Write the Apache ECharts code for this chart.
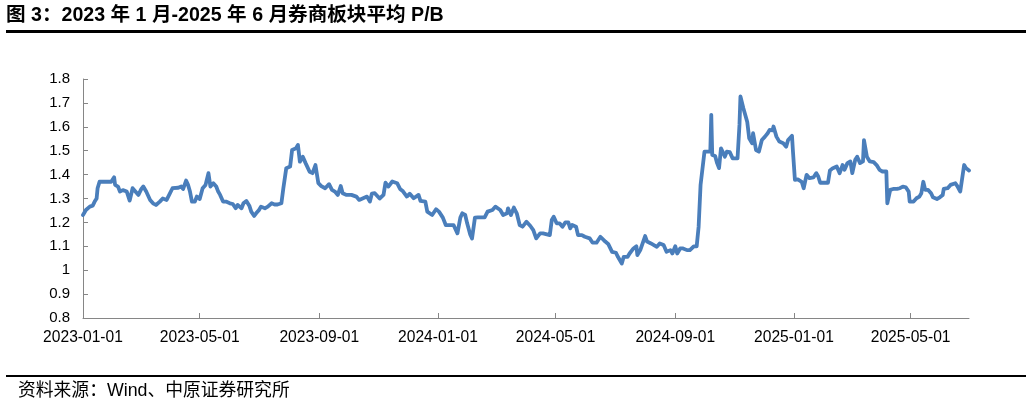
<!DOCTYPE html>
<html>
<head>
<meta charset="utf-8">
<script src="https://cdn.jsdelivr.net/npm/echarts@6/dist/echarts.min.js"></script>
<style>html,body{margin:0;padding:0;background:#fff;}#c{width:1032px;height:409px;}</style>
</head>
<body>
<div id="c"></div>
<script>
// Day offsets from 2023-01-01 (x category) and average P/B of the brokerage sector
const startDate = '2023-01-01';
const dayOffsets = [0,3,7,10,12,14,15,17,19,22,29,32,33,36,38,41,45,48,51,53,57,60,62,65,69,72,75,79,82,86,88,92,94,98,101,103,106,108,110,112,115,117,120,123,126,129,131,134,137,139,141,144,147,151,154,157,159,163,165,168,171,173,176,178,181,183,187,190,194,197,200,204,206,207,209,213,215,219,221,223,226,229,231,233,236,239,242,245,249,253,256,259,262,265,267,271,276,281,284,288,292,295,297,300,305,309,311,314,318,323,326,329,333,336,340,342,345,347,352,354,359,360,363,366,370,373,377,379,381,385,388,390,393,395,398,400,403,406,413,416,418,421,424,426,429,432,436,437,440,443,446,449,452,456,460,463,466,470,473,480,482,484,487,490,493,496,499,501,503,507,509,513,516,521,524,528,532,534,537,540,544,548,550,554,556,560,562,566,569,570,573,575,578,580,584,587,590,593,597,600,604,606,609,611,614,617,621,624,628,631,633,635,637,639,641,645,646,647,650,652,654,656,658,660,662,665,668,670,673,675,676,679,681,683,685,688,689,692,695,698,701,704,706,709,710,713,716,720,723,725,729,730,732,735,739,741,744,747,751,754,756,758,766,768,771,775,778,781,783,786,789,791,794,796,799,802,803,805,806,809,813,816,819,822,826,827,830,833,837,840,843,846,849,850,854,857,860,862,864,866,869,872,874,878,881,884,885,889,892,894,897,899,902,903,906,908,911];
const pbValues = [1.231,1.252,1.266,1.27,1.287,1.30,1.343,1.37,1.378,1.37,1.37,1.389,1.357,1.35,1.329,1.335,1.329,1.291,1.343,1.35,1.315,1.34,1.35,1.329,1.294,1.28,1.273,1.287,1.30,1.294,1.287,1.343,1.35,1.345,1.35,1.34,1.375,1.357,1.329,1.287,1.287,1.308,1.298,1.343,1.357,1.406,1.35,1.364,1.35,1.329,1.315,1.287,1.287,1.28,1.277,1.259,1.273,1.259,1.28,1.29,1.27,1.245,1.227,1.238,1.252,1.266,1.259,1.266,1.28,1.275,1.275,1.28,1.343,1.35,1.427,1.434,1.503,1.51,1.524,1.454,1.475,1.447,1.454,1.412,1.406,1.44,1.364,1.352,1.343,1.36,1.336,1.329,1.315,1.352,1.322,1.315,1.315,1.308,1.294,1.301,1.308,1.287,1.32,1.322,1.30,1.315,1.366,1.35,1.371,1.364,1.34,1.33,1.308,1.32,1.301,1.294,1.315,1.29,1.287,1.245,1.231,1.224,1.255,1.245,1.22,1.189,1.189,1.182,1.189,1.154,1.22,1.238,1.231,1.196,1.151,1.133,1.22,1.221,1.221,1.245,1.245,1.252,1.266,1.273,1.252,1.231,1.238,1.259,1.231,1.262,1.238,1.189,1.182,1.203,1.185,1.168,1.133,1.154,1.154,1.147,1.21,1.224,1.196,1.196,1.182,1.2,1.2,1.175,1.189,1.182,1.147,1.147,1.14,1.133,1.115,1.115,1.14,1.147,1.12,1.11,1.077,1.073,1.056,1.028,1.056,1.056,1.07,1.091,1.1,1.063,1.084,1.084,1.143,1.12,1.112,1.105,1.098,1.112,1.105,1.077,1.084,1.07,1.1,1.07,1.091,1.091,1.084,1.084,1.1,1.1,1.182,1.357,1.36,1.496,1.496,1.496,1.65,1.482,1.478,1.448,1.427,1.51,1.503,1.475,1.496,1.494,1.468,1.475,1.468,1.608,1.727,1.678,1.675,1.62,1.552,1.531,1.573,1.503,1.496,1.545,1.558,1.573,1.587,1.585,1.601,1.559,1.538,1.531,1.517,1.545,1.562,1.496,1.378,1.38,1.37,1.343,1.399,1.385,1.388,1.406,1.392,1.366,1.366,1.417,1.427,1.434,1.406,1.44,1.42,1.448,1.455,1.406,1.462,1.475,1.448,1.455,1.544,1.538,1.475,1.455,1.452,1.44,1.42,1.413,1.413,1.28,1.336,1.34,1.34,1.343,1.35,1.347,1.329,1.287,1.287,1.301,1.308,1.322,1.37,1.336,1.336,1.322,1.305,1.298,1.305,1.315,1.34,1.343,1.357,1.35,1.364,1.352,1.329,1.325,1.44,1.427,1.417];
const xTickLabels = ['2023-01-01','2023-05-01','2023-09-01','2024-01-01','2024-05-01','2024-09-01','2025-01-01','2025-05-01'];
const axisEndDate = '2025-06-30';
const yMin = 0.8, yMax = 1.8, yStep = 0.1;
const titleText = '图 3：2023 年 1 月-2025 年 6 月券商板块平均 P/B';
const sourceText = '资料来源：Wind、中原证券研究所';

const DAY = 86400000;
function ts(s){ const p = s.split('-').map(Number); return Date.UTC(p[0], p[1]-1, p[2]); }
const t0 = ts(startDate);
function toDay(s){ return Math.round((ts(s) - t0) / DAY); }
const seriesData = dayOffsets.map((d, i) => [d, pbValues[i]]);
const tickDays = xTickLabels.map(toDay);
function pad(n){ return (n < 10 ? '0' : '') + n; }
function fmtDay(v){ const d = new Date(t0 + v * DAY); return d.getUTCFullYear() + '-' + pad(d.getUTCMonth()+1) + '-' + pad(d.getUTCDate()); }

const chart = echarts.init(document.getElementById('c'), null, {renderer: 'canvas'});
const latin = '"Liberation Sans", Arial, "Noto Sans CJK SC", sans-serif';
chart.setOption({
  animation: false,
  backgroundColor: '#fff',
  grid: {left: 83, right: 63, top: 79, height: 239},
  xAxis: {
    type: 'value', min: 0, max: toDay(axisEndDate),
    axisLine: {show: true, onZero: false, lineStyle: {color: '#868686', width: 1}},
    axisTick: {show: true, inside: true, length: 5, customValues: tickDays, lineStyle: {color: '#868686'}},
    axisLabel: {customValues: tickDays, formatter: fmtDay, color: '#000', fontSize: 15.6, fontFamily: latin, margin: 12, hideOverlap: false},
    splitLine: {show: false}
  },
  yAxis: {
    type: 'value', min: yMin, max: yMax, interval: yStep,
    axisLine: {show: true, lineStyle: {color: '#868686', width: 1}},
    axisTick: {show: true, inside: true, length: 5, lineStyle: {color: '#868686'}},
    axisLabel: {color: '#000', fontSize: 15, fontFamily: latin, margin: 13},
    splitLine: {show: false}
  },
  series: [{
    type: 'line', data: seriesData, showSymbol: false, smooth: false,
    lineStyle: {color: '#4A7EBB', width: 3.8, join: 'round', cap: 'round'},
    itemStyle: {color: '#4A7EBB'}
  }],
  graphic: [
    {type: 'text', x: 6, y: 16, style: {text: titleText, font: 'bold 19.6px ' + latin, fill: '#000', textAlign: 'left', textVerticalAlign: 'middle'}},
    {type: 'rect', shape: {x: 6, y: 30, width: 1020, height: 3}, style: {fill: '#000'}},
    {type: 'rect', shape: {x: 6, y: 375, width: 1020, height: 2}, style: {fill: '#000'}},
    {type: 'text', x: 18, y: 391, style: {text: sourceText, font: '17.8px ' + latin, fill: '#000', textAlign: 'left', textVerticalAlign: 'middle'}}
  ]
});
</script>
</body>
</html>
